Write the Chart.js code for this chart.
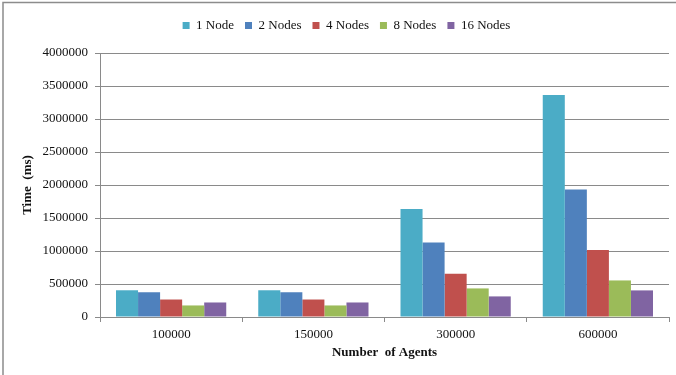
<!DOCTYPE html>
<html>
<head>
<meta charset="utf-8">
<script src="https://cdn.jsdelivr.net/npm/chart.js@4/dist/chart.umd.min.js"></script>
<style>
  html, body { margin: 0; padding: 0; background: #fff; }
  #wrap { position: relative; width: 676px; height: 375px; }
</style>
</head>
<body>
<div id="wrap"><canvas id="c" width="676" height="375"></canvas></div>
<script>
// Run time per agent count, for each node count
const agentCounts = ['100000', '150000', '300000', '600000'];
const seriesNames = ['1 Node', '2 Nodes', '4 Nodes', '8 Nodes', '16 Nodes'];
const oneNode     = [405000, 405000, 1636000, 3362000];
const twoNodes    = [375000, 375000, 1128000, 1932000];
const fourNodes   = [265000, 265000, 655000, 1017000];
const eightNodes  = [175000, 175000, 433000, 554000];
const sixteenNodes = [220000, 220000, 312000, 403000];
const yTicks = [0, 500000, 1000000, 1500000, 2000000, 2500000, 3000000, 3500000, 4000000];

const colors = ['#4BACC6', '#4F81BD', '#C0504D', '#9BBB59', '#8064A2'];
const seriesValues = [oneNode, twoNodes, fourNodes, eightNodes, sixteenNodes];

const serif = "'Liberation Serif', 'Times New Roman', serif";
const gridGray = '#8a8a8a';

// Outer frame of the figure
const framePlugin = {
  id: 'frame',
  beforeDraw(chart) {
    const ctx = chart.ctx;
    ctx.save();
    ctx.fillStyle = '#fff';
    ctx.fillRect(0, 0, chart.width, chart.height);
    ctx.strokeStyle = '#8c8c8c';
    ctx.lineWidth = 1.5;
    ctx.strokeRect(3, 2.5, chart.width + 10, chart.height + 10);
    ctx.restore();
  }
};

// Extra room below the legend, and a small shift of the legend row to the right
const legendGapPlugin = {
  id: 'legendGap',
  beforeInit(chart) {
    const legend = chart.legend;
    if (!legend) return;
    const fit = legend.fit;
    legend.fit = function () {
      fit.call(this);
      this.height += 11;
    };
  },
  afterLayout(chart) {
    const legend = chart.legend;
    if (!legend) return;
    legend.left += 10;
    legend.right += 10;
  }
};

new Chart(document.getElementById('c'), {
  type: 'bar',
  data: {
    labels: agentCounts,
    datasets: seriesNames.map((name, i) => ({
      label: name,
      data: seriesValues[i],
      backgroundColor: colors[i],
      borderWidth: 0,
      categoryPercentage: 0.775,
      barPercentage: 1.0
    }))
  },
  options: {
    responsive: false,
    animation: false,
    devicePixelRatio: 1,
    layout: { padding: { left: 4, right: 7, top: 8, bottom: 0 } },
    plugins: {
      legend: {
        position: 'top',
        labels: {
          boxWidth: 7,
          boxHeight: 7,
          padding: 11,
          color: '#111',
          font: { family: serif, size: 13 }
        }
      },
      tooltip: { enabled: false }
    },
    scales: {
      x: {
        offset: true,
        grid: {
          display: true,
          offset: true,
          drawOnChartArea: false,
          drawTicks: true,
          tickLength: 5,
          color: gridGray
        },
        border: { display: true, color: gridGray, width: 1 },
        ticks: {
          color: '#111',
          padding: 5,
          font: { family: serif, size: 13 }
        },
        title: {
          display: true,
          text: 'Number  of Agents',
          color: '#111',
          font: { family: serif, size: 13, weight: 'bold' },
          padding: { top: 4, bottom: 15 }
        },
        afterFit(scale) { scale.height = 58; }
      },
      y: {
        min: 0,
        max: 4000000,
        afterBuildTicks(scale) { scale.ticks = yTicks.map(v => ({ value: v })); },
        grid: {
          color: gridGray,
          lineWidth: 1,
          drawTicks: true,
          tickLength: 5
        },
        border: { display: true, color: gridGray, width: 1 },
        ticks: {
          color: '#111',
          padding: 7,
          font: { family: serif, size: 13 },
          callback: v => String(v)
        },
        title: {
          display: true,
          text: 'Time  (ms)',
          color: '#111',
          font: { family: serif, size: 13, weight: 'bold' },
          padding: { top: 16, bottom: 4 }
        },
        afterFit(scale) { scale.width = 96; }
      }
    }
  },
  plugins: [framePlugin, legendGapPlugin]
});
</script>
</body>
</html>
